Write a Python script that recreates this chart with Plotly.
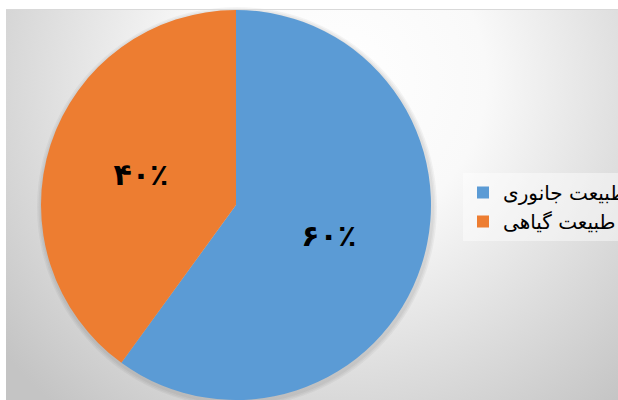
import plotly.graph_objects as go
import urllib.parse

labels = ["طبیعت جانوری", "طبیعت گیاهی"]
values = [60, 40]
text_labels = ["۶۰٪", "۴۰٪"]
colors = ["#5B9BD5", "#ED7D31"]

W, H = 618, 400

# background radial gradient (svg image)
svg = (
    '<svg xmlns="http://www.w3.org/2000/svg" width="612" height="390" viewBox="0 0 612 390">'
    '<defs><radialGradient id="g" gradientUnits="userSpaceOnUse" cx="330" cy="70" r="430">'
    '<stop offset="0" stop-color="#ffffff"/>'
    '<stop offset="0.35" stop-color="#f9f9f9"/>'
    '<stop offset="1" stop-color="#c4c4c4"/>'
    '</radialGradient></defs>'
    '<rect x="0" y="0" width="612" height="390" fill="url(#g)"/>'
    '</svg>'
)
svg_uri = "data:image/svg+xml;charset=utf-8," + urllib.parse.quote(svg)

cx, cy, r = 236, 205, 195

shapes = [dict(type="line", xref="paper", yref="paper",
               x0=6 / W, x1=1, y0=1 - 9.5 / H, y1=1 - 9.5 / H,
               line=dict(color="#d9d9d9", width=1))]
# soft shadow rings
for extra in [5, 3.5, 2]:
    shapes.append(dict(
        type="circle", xref="paper", yref="paper", layer="below",
        x0=(cx + 1 - r - extra) / W, x1=(cx + 1 + r + extra) / W,
        y0=1 - (cy + 2 + r + extra) / H, y1=1 - (cy + 2 - r - extra) / H,
        fillcolor="rgba(0,0,0,0.04)", line=dict(width=0),
    ))

fig = go.Figure()
fig.add_trace(go.Pie(
    labels=labels,
    values=values,
    text=text_labels,
    texttemplate="<b>%{text}</b>",
    textposition="inside",
    insidetextorientation="horizontal",
    textfont=dict(family="DejaVu Sans", size=30, color="#000000"),
    marker=dict(colors=colors, line=dict(width=0)),
    sort=False,
    direction="clockwise",
    rotation=0,
    domain=dict(x=[(cx - r) / W, (cx + r) / W], y=[1 - (cy + r) / H, 1 - (cy - r) / H]),
    hoverinfo="label+percent",
))

fig.update_layout(
    width=W, height=H,
    margin=dict(l=0, r=0, t=0, b=0, autoexpand=False),
    paper_bgcolor="#ffffff",
    plot_bgcolor="#ffffff",
    images=[dict(
        source=svg_uri, xref="paper", yref="paper",
        x=6 / W, y=1 - 10 / H, sizex=1 - 6 / W, sizey=1 - 10 / H,
        xanchor="left", yanchor="top", sizing="stretch", layer="below",
    )],
    shapes=shapes,
    legend=dict(
        x=463 / W, xanchor="left",
        y=1 - 207 / H, yanchor="middle",
        bgcolor="rgba(255,255,255,0.45)",
        font=dict(family="DejaVu Sans", size=20, color="#000000"),
        itemwidth=30,
        tracegroupgap=0,
    ),
)

fig.write_html("out.html")
